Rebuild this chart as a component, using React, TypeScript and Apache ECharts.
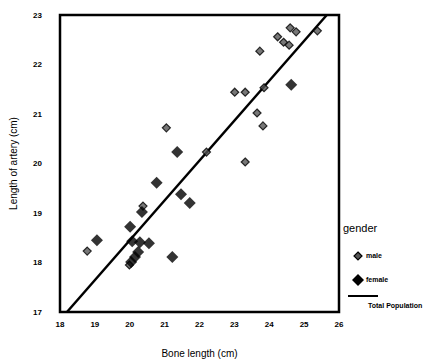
import React, { useEffect, useRef } from "react";
import * as echarts from "echarts";

const maleX = [18.78, 19.99, 20.38, 21.05, 22.2, 23.01, 23.31, 23.85, 23.65, 23.82, 23.31, 23.73, 24.24, 24.41, 24.57, 24.6, 24.77, 25.38];
const maleY = [18.23, 17.95, 19.14, 20.72, 20.23, 21.44, 21.44, 21.53, 21.02, 20.76, 20.03, 22.27, 22.56, 22.45, 22.39, 22.74, 22.66, 22.68];
const femaleX = [20.77, 21.36, 21.47, 21.72, 20.35, 20.01, 19.06, 20.07, 20.29, 20.55, 20.24, 20.15, 20.04, 21.22, 24.63];
const femaleY = [19.61, 20.23, 19.38, 19.2, 19.02, 18.72, 18.45, 18.43, 18.41, 18.39, 18.21, 18.11, 18.01, 18.11, 21.59];
const fitX = [18.2, 25.65];
const fitY = [17, 23];
const xTicks = [18, 19, 20, 21, 22, 23, 24, 25, 26];
const yTicks = [17, 18, 19, 20, 21, 22, 23];

const FONT = "'Liberation Sans', Arial, sans-serif";

export default function App() {
  const ref = useRef<HTMLDivElement>(null);
  useEffect(() => {
    const chart = echarts.init(ref.current!, undefined, { renderer: "svg" });
    const zip = (xs: number[], ys: number[]) => xs.map((x, i) => [x, ys[i]]);
    chart.setOption({
      animation: false,
      backgroundColor: "#fff",
      grid: { left: 54, top: 15, right: 91, bottom: 52, show: true, borderColor: "#000", borderWidth: 2.5, backgroundColor: "transparent" },
      xAxis: {
        type: "value",
        min: xTicks[0],
        max: xTicks[xTicks.length - 1],
        interval: 1,
        name: "Bone length (cm)",
        nameLocation: "middle",
        nameGap: 36,
        nameTextStyle: { fontFamily: FONT, fontSize: 10, color: "#000" },
        axisLine: { show: false },
        axisTick: { show: false },
        splitLine: { show: false },
        axisLabel: { fontFamily: FONT, fontSize: 8, fontWeight: "bold", color: "#000", margin: 8 },
      },
      yAxis: {
        type: "value",
        min: yTicks[0],
        max: yTicks[yTicks.length - 1],
        interval: 1,
        name: "Length of artery (cm)",
        nameLocation: "middle",
        nameGap: 42,
        nameTextStyle: { fontFamily: FONT, fontSize: 10, color: "#000" },
        axisLine: { show: false },
        axisTick: { show: false },
        splitLine: { show: false },
        axisLabel: { fontFamily: FONT, fontSize: 8, fontWeight: "bold", color: "#000", margin: 18 },
      },
      series: [
        {
          name: "Total Population",
          type: "line",
          data: zip(fitX, fitY),
          symbol: "none",
          lineStyle: { color: "#000", width: 2.5 },
          z: 2,
        },
        {
          name: "male",
          type: "scatter",
          data: zip(maleX, maleY),
          symbol: "diamond",
          symbolSize: 8,
          itemStyle: { color: "#555", borderColor: "#000", borderWidth: 1.2 },
          z: 3,
        },
        {
          name: "female",
          type: "scatter",
          data: zip(femaleX, femaleY),
          symbol: "diamond",
          symbolSize: 12,
          itemStyle: { color: "#000" },
          z: 4,
        },
      ],
      graphic: [
        { type: "text", left: 343, top: 222, style: { text: "gender", font: `11px ${FONT}`, fill: "#000" } },
        { type: "polygon", shape: { points: [[358, 252], [362, 256], [358, 260], [354, 256]] }, style: { fill: "#555", stroke: "#000", lineWidth: 1.2 } },
        { type: "text", left: 366, top: 252, style: { text: "male", font: `bold 7px ${FONT}`, fill: "#000" } },
        { type: "polygon", shape: { points: [[358, 274], [364, 280], [358, 286], [352, 280]] }, style: { fill: "#000" } },
        { type: "text", left: 366, top: 276, style: { text: "female", font: `bold 7px ${FONT}`, fill: "#000" } },
        { type: "line", shape: { x1: 348, y1: 296, x2: 378, y2: 296 }, style: { stroke: "#000", lineWidth: 2 } },
        { type: "text", left: 368, top: 302, style: { text: "Total Population", font: `bold 7px ${FONT}`, fill: "#000" } },
      ],
    });
    return () => chart.dispose();
  }, []);
  return <div ref={ref} style={{ width: 430, height: 364, position: "absolute", left: 0, top: 0 }} />;
}
